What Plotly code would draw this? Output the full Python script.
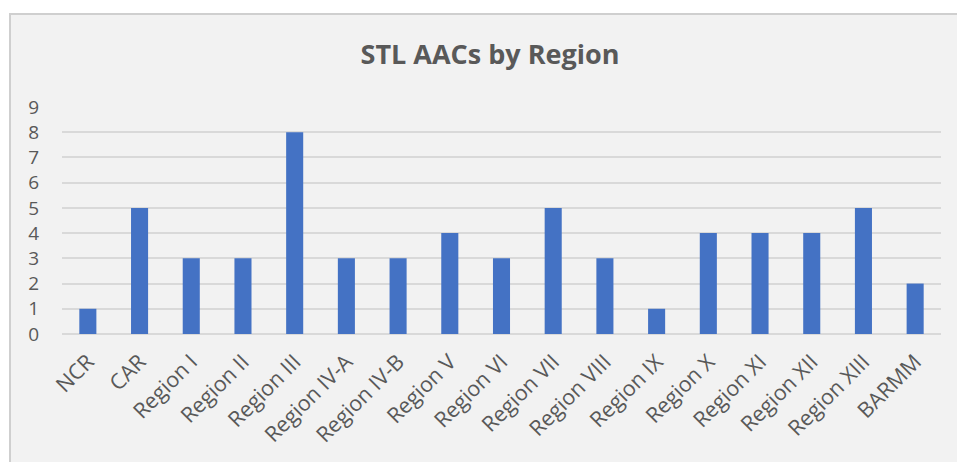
import plotly.graph_objects as go

categories = ["NCR", "CAR", "Region I", "Region II", "Region III", "Region IV-A",
              "Region IV-B", "Region V", "Region VI", "Region VII", "Region VIII",
              "Region IX", "Region X", "Region XI", "Region XII", "Region XIII", "BARMM"]
values = [1, 5, 3, 3, 8, 3, 3, 4, 3, 5, 3, 1, 4, 4, 4, 5, 2]
y_ticks = list(range(0, 10))

W, H = 957, 462
L, R, T, B = 62, 16, 107, 128
plot_w = W - L - R
plot_h = H - T - B

def px_x(x):
    return (x - L) / plot_w

def px_y(y):
    return (H - B - y) / plot_h

fig = go.Figure(go.Bar(
    x=categories, y=values,
    marker=dict(color="#4472C4", line=dict(width=0)),
    width=0.33,
))

fig.add_shape(type="rect", xref="paper", yref="paper",
              x0=px_x(10), x1=px_x(975), y0=px_y(480), y1=px_y(14),
              fillcolor="#f2f2f2", line=dict(color="#cfcfcf", width=2), layer="below")

fig.update_layout(
    width=W, height=H,
    margin=dict(l=L, r=R, t=T, b=B),
    paper_bgcolor="white",
    plot_bgcolor="rgba(0,0,0,0)",
    font=dict(family="Open Sans, Liberation Sans, sans-serif", color="#595959", size=19),
    title=dict(text="<b>STL AACs by Region</b>", x=490 / W, xref="container", xanchor="center",
               y=1 - 55 / H, yref="container", yanchor="middle",
               font=dict(size=27, color="#595959")),
    showlegend=False,
)
fig.update_xaxes(tickangle=-45, showgrid=False, showline=False, ticks="", automargin=False,
                 tickfont=dict(size=21.5, color="#595959"), ticklabelstandoff=10)
fig.update_yaxes(range=[0, 9], tickvals=y_ticks, showgrid=True, gridcolor="#d9d9d9",
                 gridwidth=1.5, zeroline=True, zerolinecolor="#d9d9d9", zerolinewidth=1.5,
                 ticks="", automargin=False, tickfont=dict(size=19, color="#595959"),
                 ticklabelstandoff=22)

fig.write_html("out.html", post_script="document.body.style.margin='0';",
               config={"displayModeBar": False})
